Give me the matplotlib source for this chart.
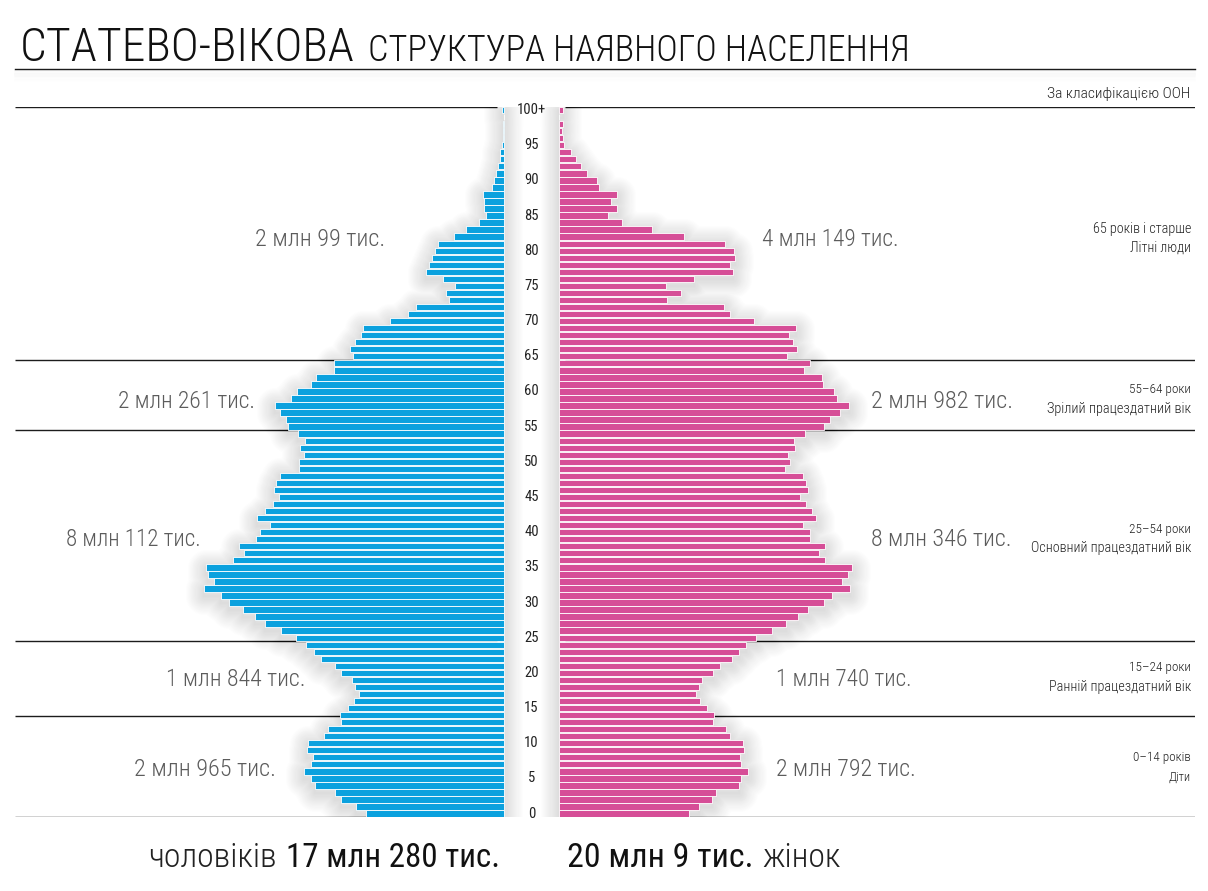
import matplotlib
matplotlib.use('Agg')
import matplotlib.pyplot as plt
from matplotlib import font_manager
from matplotlib.patches import Polygon
from matplotlib.lines import Line2D
import matplotlib.transforms as mtransforms
import numpy as np

# ---------------- data (thousands of people) ----------------
ages = list(range(0, 101))
male = [154, 166, 182, 189, 212, 216, 224, 216, 214, 220,
        219, 201, 197, 182, 183, 175, 168, 162, 167, 170,
        182, 189, 205, 213, 222, 233, 250, 267, 279, 292,
        308, 317, 336, 324, 331, 333, 303, 291, 297, 277,
        273, 262, 276, 267, 258, 252, 257, 255, 251, 229,
        229, 224, 228, 223, 230, 242, 244, 251, 256, 238,
        232, 216, 210, 190, 190, 169, 172, 167, 160, 158,
        128, 107, 98, 61, 65, 55, 68, 87, 84, 81,
        77, 74, 56, 42, 28, 20, 22, 22, 24, 13,
        11, 9, 7, 5, 4, 2, 1.5, 1.5, 1.5, 0,
        2]
female = [145, 157, 171, 176, 201, 204, 211, 204, 202, 207,
          206, 191, 187, 172, 174, 166, 158, 153, 157, 160,
          172, 180, 194, 201, 209, 221, 238, 254, 267, 279,
          297, 306, 326, 317, 323, 328, 298, 291, 298, 281,
          281, 273, 288, 283, 276, 270, 279, 276, 273, 253,
          258, 256, 264, 263, 275, 296, 303, 314, 325, 311,
          308, 295, 294, 274, 281, 255, 266, 262, 257, 265,
          218, 191, 185, 121, 137, 120, 151, 195, 191, 197,
          196, 186, 140, 104, 71, 55, 65, 58, 65, 45,
          42, 31, 25, 19, 13, 6, 4, 3, 4, 0,
          5]
tick_ages = [0, 5, 10, 15, 20, 25, 30, 35, 40, 45, 50, 55, 60, 65, 70, 75, 80, 85, 90, 95, 100]
tick_labels = ['0', '5', '10', '15', '20', '25', '30', '35', '40', '45', '50',
               '55', '60', '65', '70', '75', '80', '85', '90', '95', '100+']
group_ranges = ['0–14 років', '15–24 роки', '25–54 роки', '55–64 роки', '65 років і старше']
group_names = ['Діти', 'Ранній працездатний вік', 'Основний працездатний вік',
               'Зрілий працездатний вік', 'Літні люди']
male_group_totals = ['2 млн 965 тис.', '1 млн 844 тис.', '8 млн 112 тис.', '2 млн 261 тис.', '2 млн 99 тис.']
female_group_totals = ['2 млн 792 тис.', '1 млн 740 тис.', '8 млн 346 тис.', '2 млн 982 тис.', '4 млн 149 тис.']
male_total = '17 млн 280 тис.'
female_total = '20 млн 9 тис.'

# ---------------- style ----------------
W, H, DPI = 1208, 891, 100
BLUE = '#0BA1DE'
PINK = '#D64E97'
LINE = '#1c1c1c'
GREY = '#5c5c5c'

tt = font_manager.fontManager.ttflist
names = {f.name for f in tt}
FONT, STRETCH = 'DejaVu Sans', 'normal'
for c in ['Roboto Condensed', 'Liberation Sans Narrow', 'Open Sans Condensed']:
    if c in names:
        FONT = c
        break
else:
    if any(f.name == 'DejaVu Sans' and f.stretch == 'condensed' for f in tt):
        STRETCH = 'condensed'

fig = plt.figure(figsize=(W / DPI, H / DPI), dpi=DPI)
fig.patch.set_facecolor('white')
renderer = fig.canvas.get_renderer()

Y_TOP, Y_BOT = 106.5, 817.1
ax = fig.add_axes([15 / W, 1 - Y_BOT / H, 1180 / W, (Y_BOT - Y_TOP) / H])
K = 1.119          # thousands per pixel
CX = 531.5


def dx(px):
    return (px - CX) * K


GAP = 27.5 * K
ax.set_xlim(dx(15), dx(1195))
ax.set_ylim(-0.5, 100.5)
ax.axis('off')

# group boundary lines (behind bars)
for b in [-0.5, 13.8, 24.5, 54.5, 64.5, 100.5]:
    ax.hlines(b, dx(15), dx(497), color=LINE, lw=1.0, zorder=1)
    ax.hlines(b, dx(565), dx(1195), color=LINE, lw=1.0, zorder=1)

# soft drop shadow of each half of the pyramid
off = mtransforms.offset_copy(ax.transData, fig=fig, x=0, y=-4, units='dots')


def silhouette(vals, sign):
    pts = []
    for a, v in zip(ages, vals):
        xo = sign * (GAP + v)
        pts.append((xo, a - 0.5))
        pts.append((xo, a + 0.5))
    pts.append((sign * GAP, 100.5))
    pts.append((sign * GAP, -0.5))
    return np.array(pts)


for vals, sign in [(male, -1), (female, 1)]:
    pts = silhouette(vals, sign)
    for k in range(1, 18):
        ax.add_patch(Polygon(pts, closed=True, facecolor='none',
                             edgecolor=(0, 0, 0, 0.0085), lw=k * 2.2 * 0.72,
                             joinstyle='round', transform=off, zorder=2))

# bars
ax.barh(ages, [-v for v in male], left=-GAP, height=0.9, color=BLUE,
        edgecolor='white', linewidth=0.6, zorder=3)
ax.barh(ages, female, left=GAP, height=0.9, color=PINK,
        edgecolor='white', linewidth=0.6, zorder=3)

# age labels in the middle column
for a, lab in zip(tick_ages, tick_labels):
    ax.text(0, a, lab, ha='center', va='center', fontsize=10.5, color='#222222',
            family=FONT, fontstretch=STRETCH, zorder=4)


def ftext(x, y, s, size, ha='left', va='baseline', target_w=None, color='#111111',
          weight='normal'):
    t = fig.text(x / W, 1 - y / H, s, fontsize=size, ha=ha, va=va, color=color,
                 family=FONT, fontstretch=STRETCH, weight=weight)
    if target_w:
        bb = t.get_window_extent(renderer)
        t.set_fontsize(size * min(1.06, target_w / bb.width))
    return t


# group totals
left_pos = [(205, 770), (236, 679), (133, 540), (186, 401), (320, 240)]
right_pos = [(846, 770), (844, 679), (941, 540), (942, 401), (830, 240)]
left_w = [142, 139, 135, 138, 130]
right_w = [140, 136, 141, 142, 137]
for s, (x, y), w in zip(male_group_totals, left_pos, left_w):
    ftext(x, y, s, 18.5, ha='center', va='center', target_w=w, color=GREY, weight='light')
for s, (x, y), w in zip(female_group_totals, right_pos, right_w):
    ftext(x, y, s, 18.5, ha='center', va='center', target_w=w, color=GREY, weight='light')

# category labels on the right
cat_y = [(758, 777), (667, 687), (529, 548), (390, 409), (229, 248)]
range_w = [58, 62, 62, 62, 99]
name_w = [22, 142, 160, 144, 61]
for r, n, (y1, y2), w1, w2 in zip(group_ranges, group_names, cat_y, range_w, name_w):
    ftext(1191, y1, r, 9.8, ha='right', va='center', target_w=w1, color='#222222', weight='light')
    ftext(1191, y2, n, 9.8, ha='right', va='center', target_w=w2, color='#222222', weight='light')

# title
ftext(20, 61, 'СТАТЕВО-ВІКОВА', 42, target_w=335, color='#111111', weight='light')
ftext(368, 61, 'СТРУКТУРА НАЯВНОГО НАСЕЛЕННЯ', 28, target_w=542, color='#111111', weight='light')
for k in range(1, 11):
    fig.add_artist(Line2D([15 / W, 1195 / W], [1 - (69 + k * 1.2) / H] * 2,
                          color='black', alpha=0.01 * (11 - k) / 4, lw=1.2))
fig.add_artist(Line2D([15 / W, 1195 / W], [1 - 69 / H] * 2, color=LINE, lw=1.0))
ftext(1190, 98, 'За класифікацією ООН', 10.5, ha='right', target_w=153, color='#222222',
      weight='light')

# bottom totals
tm = ftext(500, 867, male_total, 23, ha='right', target_w=215, color='#111111')
bbm = tm.get_window_extent(renderer)
ftext(bbm.x0 - 9, 867, 'чоловіків', 23, ha='right', target_w=132, color='#222222', weight='light')
tf = ftext(567, 867, female_total, 23, ha='left', target_w=190, color='#111111')
bbf = tf.get_window_extent(renderer)
ftext(bbf.x1 + 9, 867, 'жінок', 23, ha='left', target_w=84, color='#222222', weight='light')

fig.savefig('out.png', dpi=DPI, facecolor='white')
